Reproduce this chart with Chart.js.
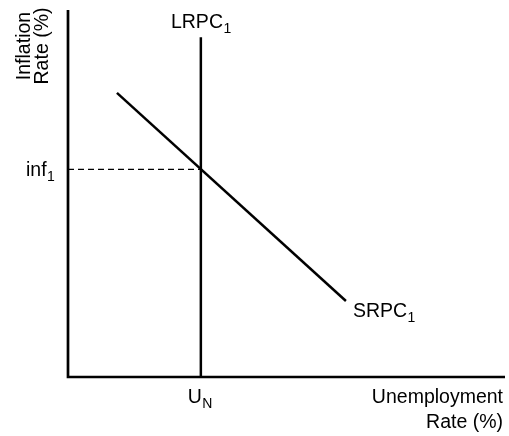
<!DOCTYPE html>
<html>
<head>
<meta charset="utf-8">
<script src="https://cdn.jsdelivr.net/npm/chart.js@4"></script>
<style>
  body { margin: 0; background: #fff; }
  canvas { display: block; }
</style>
</head>
<body>
<canvas id="c" width="509" height="436"></canvas>
<script>
// natural rate of unemployment and the matching inflation level
const uN = 3.04
const inf1 = 5.66

// long-run Phillips curve: vertical at uN
const lrpc = [{ x: uN, y: 0 }, { x: uN, y: 9.26 }]
// short-run Phillips curve endpoints
const srpc = [{ x: 1.12, y: 7.74 }, { x: 6.36, y: 2.07 }]
// dashed guide from the vertical axis to the intersection
const guide = [{ x: 0, y: inf1 }, { x: uN, y: inf1 }]

const FONT = '"Liberation Sans", Arial, Helvetica, sans-serif'
const BIG = '19.5px ' + FONT
const SMALL = '14px ' + FONT

function subText(ctx, base, sub, x, y, align) {
  ctx.font = BIG
  let w1 = ctx.measureText(base).width
  ctx.font = SMALL
  let w2 = ctx.measureText(sub).width
  let start = x
  if (align === 'center') start = x - (w1 + w2) / 2
  if (align === 'right') start = x - (w1 + w2)
  ctx.textAlign = 'left'
  ctx.font = BIG
  ctx.fillText(base, start, y)
  ctx.font = SMALL
  ctx.fillText(sub, start + w1 + 0.5, y + 5)
}

const labels = {
  id: 'labels',
  afterDraw(chart) {
    const ctx = chart.ctx
    const xs = chart.scales.x
    const ys = chart.scales.y
    const a = chart.chartArea
    ctx.save()
    ctx.fillStyle = '#000'
    ctx.textBaseline = 'alphabetic'

    // axes
    ctx.strokeStyle = '#000'
    ctx.lineWidth = 2.7
    ctx.beginPath()
    ctx.moveTo(a.left, a.top)
    ctx.lineTo(a.left, a.bottom)
    ctx.lineTo(a.right, a.bottom)
    ctx.stroke()

    subText(ctx, 'LRPC', '1', xs.getPixelForValue(uN), 28, 'center')
    subText(ctx, 'inf', '1', 26, ys.getPixelForValue(inf1) + 7, 'left')
    subText(ctx, 'U', 'N', xs.getPixelForValue(uN) - 1, 403, 'center')
    const end = srpc[srpc.length - 1]
    subText(ctx, 'SRPC', '1', xs.getPixelForValue(end.x) + 7, ys.getPixelForValue(end.y) + 16, 'left')

    ctx.font = BIG
    ctx.textAlign = 'right'
    ctx.fillText('Unemployment', 503, 403)
    ctx.fillText('Rate (%)', 503, 428)

    ctx.translate(30, 46)
    ctx.rotate(-Math.PI / 2)
    ctx.textAlign = 'center'
    ctx.fillText('Inflation', 0, 0)
    ctx.fillText('Rate (%)', 0, 18)
    ctx.restore()
  },
}

const line = (data, extra) => Object.assign({
  data: data,
  borderColor: '#000',
  borderWidth: 2.5,
  pointRadius: 0,
  showLine: true,
  fill: false,
}, extra)

new Chart(document.getElementById('c'), {
  type: 'scatter',
  data: {
    datasets: [
      line(guide, { borderWidth: 1.3, borderDash: [6, 4] }),
      line(lrpc),
      line(srpc),
    ],
  },
  options: {
    responsive: false,
    animation: false,
    layout: { padding: { left: 68, right: 4, top: 10, bottom: 59 } },
    plugins: { legend: { display: false }, tooltip: { enabled: false } },
    scales: {
      x: {
        min: 0, max: 10,
        ticks: { display: false },
        grid: { display: false },
        border: { display: false },
        afterFit: (s) => { s.height = 0 },
      },
      y: {
        min: 0, max: 10,
        ticks: { display: false },
        grid: { display: false },
        border: { display: false },
        afterFit: (s) => { s.width = 0 },
      },
    },
  },
  plugins: [labels],
})
</script>
</body>
</html>
